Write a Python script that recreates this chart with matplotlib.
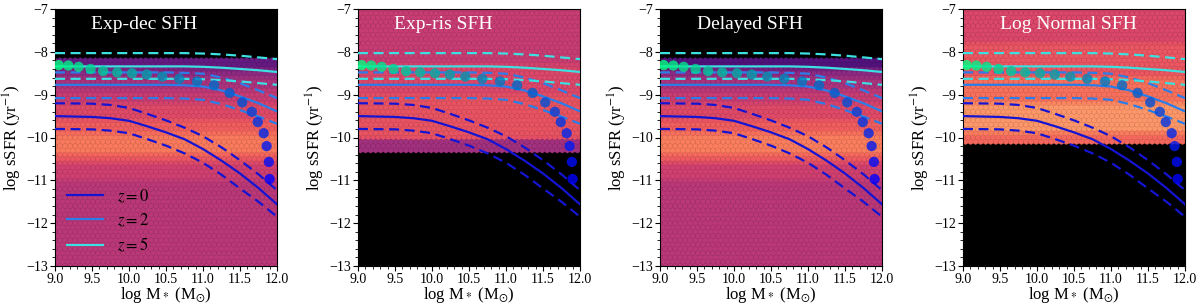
import numpy as np
import matplotlib
matplotlib.use("Agg")
import matplotlib.pyplot as plt
from matplotlib.ticker import MultipleLocator

plt.rcParams['font.family'] = ['Liberation Serif', 'DejaVu Serif']
plt.rcParams['mathtext.fontset'] = 'stix'

# ---- data ----
titles = ['Exp-dec SFH', 'Exp-ris SFH', 'Delayed SFH', 'Log Normal SFH']
title_x = [0.40, 0.385, 0.405, 0.475]

# background density: band edges in log sSFR and colour level (magma fraction) per band
band_edges = [
    [-13.0, -11.0, -10.6, -10.4, -9.9, -9.6, -9.2, -8.9, -8.6, -8.4, -8.25],
    [-10.3, -10.05, -9.0, -8.3, -7.0],
    [-13.0, -11.0, -10.6, -10.4, -9.9, -9.6, -9.2, -8.9, -8.6, -8.4, -8.2],
    [-10.1, -9.9, -9.2, -8.6, -7.8, -7.0],
]
band_levels = [
    [0.51, 0.56, 0.64, 0.72, 0.66, 0.60, 0.54, 0.47, 0.40, 0.30],
    [0.45, 0.63, 0.59, 0.54],
    [0.51, 0.56, 0.65, 0.73, 0.66, 0.60, 0.54, 0.47, 0.40, 0.25],
    [0.68, 0.78, 0.70, 0.64, 0.59],
]

# model median and scatter per redshift
mass = [9.0, 9.5, 9.75, 10.0, 10.25, 10.5, 10.75, 11.0, 11.25, 11.5, 11.75, 12.0]
z0_mid = [-9.50, -9.52, -9.55, -9.61, -9.74, -9.88, -10.04, -10.27, -10.54, -10.84, -11.18, -11.56]
z0_hi = [-9.20, -9.21, -9.24, -9.31, -9.45, -9.60, -9.77, -9.97, -10.23, -10.53, -10.86, -11.23]
z0_lo = [-9.80, -9.81, -9.84, -9.90, -10.04, -10.19, -10.37, -10.59, -10.87, -11.19, -11.50, -11.85]
z2_mid = [-8.77, -8.77, -8.77, -8.77, -8.77, -8.77, -8.78, -8.81, -8.90, -9.04, -9.20, -9.39]
z2_hi = [-8.48, -8.48, -8.48, -8.48, -8.48, -8.48, -8.49, -8.51, -8.60, -8.73, -8.90, -9.08]
z2_lo = [-9.08, -9.08, -9.08, -9.08, -9.08, -9.08, -9.09, -9.12, -9.22, -9.36, -9.51, -9.68]
z5_mid = [-8.34, -8.34, -8.34, -8.34, -8.34, -8.34, -8.34, -8.35, -8.37, -8.40, -8.43, -8.47]
z5_hi = [-8.03, -8.03, -8.03, -8.03, -8.03, -8.03, -8.03, -8.04, -8.06, -8.09, -8.13, -8.17]
z5_lo = [-8.63, -8.63, -8.63, -8.63, -8.63, -8.63, -8.63, -8.64, -8.66, -8.69, -8.73, -8.77]
z_labels = ['$z=0$', '$z=2$', '$z=5$']
z_colors = ['#1414d2', '#2b7de9', '#3ce0e0']

# observed points
obs_mass = [9.05, 9.18, 9.32, 9.48, 9.65, 9.84, 10.04, 10.24, 10.45, 10.68,
            10.92, 11.15, 11.36, 11.53, 11.66, 11.74, 11.82, 11.86, 11.89, 11.90]
obs_ssfr = [-8.31, -8.32, -8.35, -8.40, -8.45, -8.48, -8.50, -8.53, -8.58, -8.63,
            -8.69, -8.78, -8.96, -9.18, -9.40, -9.64, -9.90, -10.20, -10.57, -10.97]

# ---- figure ----
fig = plt.figure(figsize=(12, 3.06), dpi=100)
lefts = [55, 358, 660, 963]

# sample grid used to fill the hexagons
gx, gy = np.meshgrid(np.arange(9.0, 12.0001, 0.01), np.arange(-13.0, -6.9999, 0.01))
gx = gx.ravel(); gy = gy.ravel()

curves = [(z0_mid, z0_hi, z0_lo), (z2_mid, z2_hi, z2_lo), (z5_mid, z5_hi, z5_lo)]

for k in range(4):
    ax = fig.add_axes([lefts[k] / 1200, 40 / 306, 222 / 1200, 257 / 306])
    ax.set_facecolor('black')

    edges = np.array(band_edges[k])
    levels = np.array(band_levels[k])
    idx = np.digitize(gy, edges) - 1
    ok = (idx >= 0) & (idx < len(levels))
    ax.hexbin(gx[ok], gy[ok], C=levels[idx[ok]], gridsize=(44, 30),
              extent=(9, 12, -13, -7), cmap='magma', vmin=0, vmax=1,
              reduce_C_function=np.mean, linewidths=0.2, edgecolors='face', zorder=1)

    for (mid, hi, lo), c, lab in zip(curves, z_colors, z_labels):
        ax.plot(mass, mid, color=c, lw=1.6, label=lab, zorder=3)
        ax.plot(mass, hi, color=c, lw=1.6, ls='--', dashes=(4.5, 2.5), zorder=3)
        ax.plot(mass, lo, color=c, lw=1.6, ls='--', dashes=(4.5, 2.5), zorder=3)

    dot_cols = plt.cm.winter(np.linspace(1, 0, len(obs_mass)))
    ax.scatter(obs_mass, obs_ssfr, s=55, c=dot_cols, alpha=0.8, lw=0, zorder=4)

    ax.text(title_x[k], 0.938, titles[k], transform=ax.transAxes, color='white',
            fontsize=14, ha='center', va='center', zorder=5)

    ax.set_xlim(9, 12)
    ax.set_ylim(-13, -7)
    ax.xaxis.set_major_locator(MultipleLocator(0.5))
    ax.xaxis.set_minor_locator(MultipleLocator(0.1))
    ax.yaxis.set_major_locator(MultipleLocator(1))
    ax.yaxis.set_minor_locator(MultipleLocator(0.2))
    ax.xaxis.set_major_formatter(plt.FormatStrFormatter('%.1f'))
    ax.tick_params(which='both', direction='out', labelsize=10, pad=1.5)
    ax.tick_params(which='major', length=3.5)
    ax.tick_params(which='minor', length=2)
    ax.set_xlabel(r'log M$_*$ (M$_{\odot}$)', fontsize=12, va='top')
    ax.set_ylabel(r'log sSFR (yr$^{-1}$)', fontsize=12, va='center')
    ax.xaxis.set_label_coords(0.5, -0.075)
    ax.yaxis.set_label_coords(-0.19, 0.5)

    if k == 0:
        ax.legend(loc='lower left', frameon=False, fontsize=12, handlelength=2.2,
                  borderaxespad=0.3, labelspacing=0.4)

fig.savefig('out.png', dpi=100)
